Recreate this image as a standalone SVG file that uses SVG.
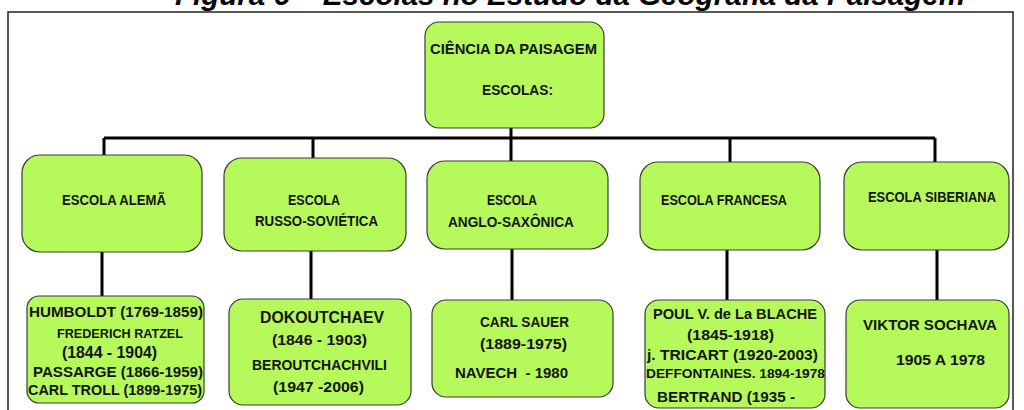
<svg xmlns="http://www.w3.org/2000/svg" width="1024" height="410" viewBox="0 0 1024 410">
<style>
.bx{fill:#b6f95a;stroke:#3a3a3a;stroke-width:1.2}
.t{font-family:"Liberation Sans",Arial,sans-serif;font-weight:bold;fill:#141414}
.c{stroke:#000;stroke-width:3;fill:none}
.ttl{font-family:"Liberation Sans",Arial,sans-serif;font-weight:bold;font-style:italic;fill:#000}
</style>
<rect width="1024" height="410" fill="#fff"/>
<text class="ttl" x="175" y="5" font-size="29" textLength="790" lengthAdjust="spacingAndGlyphs">Figura 6 – Escolas no Estudo da Geografia da Paisagem</text>
<rect x="8" y="12" width="1005" height="420" fill="none" stroke="#222" stroke-width="1.5"/>
<g id="connectors">
<path class="c" d="M511 128V138M104 138H935M104 138V155M313 138V158M511 138V161M730 138V162M935 138V162"/>
<path class="c" d="M102 252V296M311 251V299M512 249V300M727 250V300M937 250V300"/>
</g>
<g id="root">
<rect class="bx" x="425" y="22" width="179" height="106" rx="14"/>
<text class="t" x="430" y="54" font-size="14.5" textLength="167" lengthAdjust="spacingAndGlyphs">CIÊNCIA DA PAISAGEM</text>
<text class="t" x="482" y="95" font-size="14.5" textLength="71" lengthAdjust="spacingAndGlyphs">ESCOLAS:</text>
</g>
<g id="escola-alema">
<rect class="bx" x="22" y="155" width="180" height="97" rx="18"/>
<text class="t" x="62" y="205" font-size="14" textLength="104" lengthAdjust="spacingAndGlyphs">ESCOLA ALEMÃ</text>
</g>
<g id="escola-russo">
<rect class="bx" x="224" y="158" width="182" height="93" rx="18"/>
<text class="t" x="288" y="205" font-size="14" textLength="52" lengthAdjust="spacingAndGlyphs">ESCOLA</text>
<text class="t" x="255" y="226" font-size="14" textLength="123" lengthAdjust="spacingAndGlyphs">RUSSO-SOVIÉTICA</text>
</g>
<g id="escola-anglo">
<rect class="bx" x="427" y="161" width="181" height="88" rx="18"/>
<text class="t" x="487" y="205" font-size="14" textLength="50" lengthAdjust="spacingAndGlyphs">ESCOLA</text>
<text class="t" x="448" y="227" font-size="14" textLength="126" lengthAdjust="spacingAndGlyphs">ANGLO-SAXÔNICA</text>
</g>
<g id="escola-francesa">
<rect class="bx" x="640" y="162" width="180" height="88" rx="18"/>
<text class="t" x="661" y="205" font-size="14" textLength="126" lengthAdjust="spacingAndGlyphs">ESCOLA FRANCESA</text>
</g>
<g id="escola-siberiana">
<rect class="bx" x="844" y="162" width="165" height="88" rx="18"/>
<text class="t" x="868" y="202" font-size="14" textLength="128" lengthAdjust="spacingAndGlyphs">ESCOLA SIBERIANA</text>
</g>
<g id="autores-alema">
<rect class="bx" x="27" y="296" width="177" height="107" rx="12"/>
<text class="t" x="29" y="317" font-size="15" textLength="174" lengthAdjust="spacingAndGlyphs">HUMBOLDT (1769-1859)</text>
<text class="t" x="57" y="338" font-size="12.5" textLength="126" lengthAdjust="spacingAndGlyphs">FREDERICH RATZEL</text>
<text class="t" x="62" y="358" font-size="16" textLength="95" lengthAdjust="spacingAndGlyphs">(1844 - 1904)</text>
<text class="t" x="33" y="377" font-size="14.5" textLength="170" lengthAdjust="spacingAndGlyphs">PASSARGE (1866-1959)</text>
<text class="t" x="28" y="395" font-size="14.5" textLength="174" lengthAdjust="spacingAndGlyphs">CARL TROLL (1899-1975)</text>
</g>
<g id="autores-russo">
<rect class="bx" x="229" y="299" width="182" height="106" rx="14"/>
<text class="t" x="260" y="323" font-size="17" textLength="124" lengthAdjust="spacingAndGlyphs">DOKOUTCHAEV</text>
<text class="t" x="272" y="345" font-size="15" textLength="95" lengthAdjust="spacingAndGlyphs">(1846 - 1903)</text>
<text class="t" x="252" y="370" font-size="15" textLength="135" lengthAdjust="spacingAndGlyphs">BEROUTCHACHVILI</text>
<text class="t" x="273" y="392" font-size="15" textLength="91" lengthAdjust="spacingAndGlyphs">(1947 -2006)</text>
</g>
<g id="autores-anglo">
<rect class="bx" x="432" y="300" width="181" height="97" rx="14"/>
<text class="t" x="480" y="327" font-size="15" textLength="89" lengthAdjust="spacingAndGlyphs">CARL SAUER</text>
<text class="t" x="480" y="349" font-size="15" textLength="87" lengthAdjust="spacingAndGlyphs">(1889-1975)</text>
<text class="t" x="455" y="378" font-size="15" textLength="113" lengthAdjust="spacingAndGlyphs" xml:space="preserve">NAVECH  - 1980</text>
</g>
<g id="autores-francesa">
<rect class="bx" x="645" y="300" width="180" height="108" rx="14"/>
<text class="t" x="653" y="319" font-size="15" textLength="164" lengthAdjust="spacingAndGlyphs">POUL V. de La BLACHE</text>
<text class="t" x="687" y="340" font-size="15" textLength="87" lengthAdjust="spacingAndGlyphs">(1845-1918)</text>
<text class="t" x="647" y="360" font-size="15" textLength="171" lengthAdjust="spacingAndGlyphs">j. TRICART (1920-2003)</text>
<text class="t" x="646" y="378" font-size="12.5" textLength="179" lengthAdjust="spacingAndGlyphs">DEFFONTAINES. 1894-1978</text>
<text class="t" x="657" y="402" font-size="15" textLength="138" lengthAdjust="spacingAndGlyphs">BERTRAND (1935 -</text>
</g>
<g id="autores-siberiana">
<rect class="bx" x="846" y="300" width="163" height="108" rx="14"/>
<text class="t" x="863" y="330" font-size="15" textLength="134" lengthAdjust="spacingAndGlyphs">VIKTOR SOCHAVA</text>
<text class="t" x="896" y="365" font-size="15" textLength="89" lengthAdjust="spacingAndGlyphs">1905 A 1978</text>
</g>
</svg>
